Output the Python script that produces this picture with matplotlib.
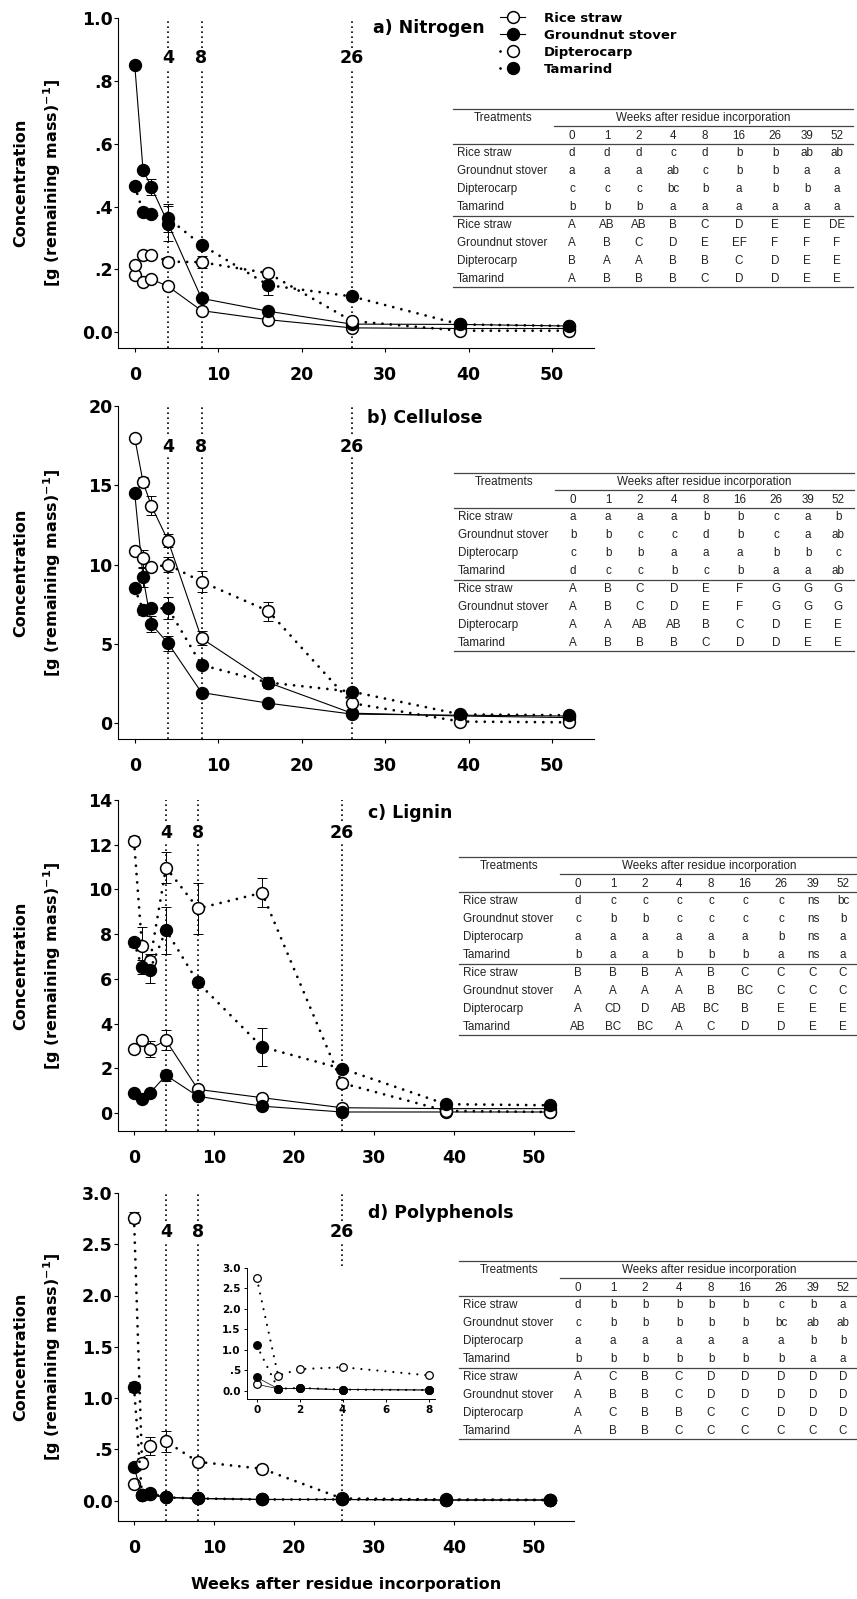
import matplotlib
matplotlib.use('agg')
from matplotlib import pyplot as plt
from matplotlib.lines import Line2D
import numpy as np

W, H = 857, 1599
plt.rcParams['font.family'] = 'DejaVu Sans'

weeks = [0, 1, 2, 4, 8, 16, 26, 39, 52]
treatments = ['Rice straw', 'Groundnut stover', 'Dipterocarp', 'Tamarind']
ref_weeks = [4, 8, 26]

# a) Nitrogen
nitrogen_rice = [0.182, 0.161, 0.169, 0.146, 0.069, 0.040, 0.014, 0.012, 0.012]
nitrogen_groundnut = [0.852, 0.516, 0.462, 0.346, 0.108, 0.067, 0.026, 0.025, 0.020]
nitrogen_dipterocarp = [0.215, 0.247, 0.247, 0.225, 0.223, 0.188, 0.036, 0.005, 0.005]
nitrogen_tamarind = [0.466, 0.383, 0.376, 0.363, 0.278, 0.150, 0.114, 0.025, 0.020]
nitrogen_err = [
    [0.005, 0.005, 0.005, 0.01, 0.005, 0.005, 0, 0, 0],
    [0, 0, 0.025, 0.055, 0.01, 0.005, 0, 0, 0],
    [0.01, 0.01, 0.01, 0.015, 0.02, 0.012, 0.01, 0, 0],
    [0.01, 0.01, 0.01, 0.045, 0.01, 0.032, 0.01, 0, 0],
]

# b) Cellulose
cellulose_rice = [18.0, 15.2, 13.7, 11.5, 5.35, 2.56, 0.63, 0.45, 0.35]
cellulose_groundnut = [14.5, 9.2, 6.23, 5.04, 1.93, 1.26, 0.57, 0.5, 0.45]
cellulose_dipterocarp = [10.85, 10.4, 9.82, 10.0, 8.92, 7.07, 1.26, 0.1, 0.05]
cellulose_tamarind = [8.5, 7.14, 7.24, 7.24, 3.67, 2.56, 1.99, 0.55, 0.5]
cellulose_err = [
    [0.2, 0.3, 0.6, 0.4, 0.45, 0.3, 0.1, 0, 0],
    [0.2, 0.6, 0.5, 0.47, 0.1, 0.1, 0.05, 0, 0],
    [0.2, 0.55, 0.2, 0.45, 0.65, 0.6, 0.1, 0, 0],
    [0.2, 0.3, 0.2, 0.7, 0.2, 0.35, 0.1, 0, 0],
]

# c) Lignin
lignin_rice = [2.88, 3.28, 2.88, 3.25, 1.06, 0.69, 0.24, 0.2, 0.2]
lignin_groundnut = [0.9, 0.64, 0.9, 1.69, 0.75, 0.31, 0.05, 0.05, 0.05]
lignin_dipterocarp = [12.18, 7.48, 6.8, 10.98, 9.15, 9.85, 1.34, 0.1, 0.05]
lignin_tamarind = [7.63, 6.54, 6.42, 8.18, 5.84, 2.96, 1.99, 0.4, 0.35]
lignin_err = [
    [0.1, 0.15, 0.35, 0.45, 0.1, 0.1, 0.05, 0, 0],
    [0.1, 0.1, 0.1, 0.25, 0.05, 0.05, 0, 0, 0],
    [0.2, 0.85, 0.3, 0.7, 1.15, 0.65, 0.2, 0, 0],
    [0.2, 0.3, 0.6, 1.05, 0.2, 0.85, 0.1, 0, 0],
]

# d) Polyphenols
poly_rice = [0.16, 0.05, 0.06, 0.03, 0.02, 0.01, 0.01, 0.005, 0.005]
poly_groundnut = [0.33, 0.05, 0.06, 0.03, 0.02, 0.01, 0.01, 0.005, 0.005]
poly_dipterocarp = [2.76, 0.37, 0.53, 0.576, 0.377, 0.31, 0.02, 0.01, 0.005]
poly_tamarind = [1.11, 0.05, 0.07, 0.03, 0.02, 0.01, 0.01, 0.005, 0.005]
poly_err = [
    [0.02, 0.01, 0.01, 0.01, 0, 0, 0, 0, 0],
    [0.02, 0.01, 0.01, 0.01, 0, 0, 0, 0, 0],
    [0.05, 0.04, 0.09, 0.1, 0.03, 0.04, 0.01, 0, 0],
    [0.05, 0.01, 0.01, 0.01, 0, 0, 0, 0, 0],
]

# significance letters (lower case: between treatments, upper case: over time)
nitrogen_lower = [
    ['d', 'd', 'd', 'c', 'd', 'b', 'b', 'ab', 'ab'],
    ['a', 'a', 'a', 'ab', 'c', 'b', 'b', 'a', 'a'],
    ['c', 'c', 'c', 'bc', 'b', 'a', 'b', 'b', 'a'],
    ['b', 'b', 'b', 'a', 'a', 'a', 'a', 'a', 'a'],
]
nitrogen_upper = [
    ['A', 'AB', 'AB', 'B', 'C', 'D', 'E', 'E', 'DE'],
    ['A', 'B', 'C', 'D', 'E', 'EF', 'F', 'F', 'F'],
    ['B', 'A', 'A', 'B', 'B', 'C', 'D', 'E', 'E'],
    ['A', 'B', 'B', 'B', 'C', 'D', 'D', 'E', 'E'],
]
cellulose_lower = [
    ['a', 'a', 'a', 'a', 'b', 'b', 'c', 'a', 'b'],
    ['b', 'b', 'c', 'c', 'd', 'b', 'c', 'a', 'ab'],
    ['c', 'b', 'b', 'a', 'a', 'a', 'b', 'b', 'c'],
    ['d', 'c', 'c', 'b', 'c', 'b', 'a', 'a', 'ab'],
]
cellulose_upper = [
    ['A', 'B', 'C', 'D', 'E', 'F', 'G', 'G', 'G'],
    ['A', 'B', 'C', 'D', 'E', 'F', 'G', 'G', 'G'],
    ['A', 'A', 'AB', 'AB', 'B', 'C', 'D', 'E', 'E'],
    ['A', 'B', 'B', 'B', 'C', 'D', 'D', 'E', 'E'],
]
lignin_lower = [
    ['d', 'c', 'c', 'c', 'c', 'c', 'c', 'ns', 'bc'],
    ['c', 'b', 'b', 'c', 'c', 'c', 'c', 'ns', 'b'],
    ['a', 'a', 'a', 'a', 'a', 'a', 'b', 'ns', 'a'],
    ['b', 'a', 'a', 'b', 'b', 'b', 'a', 'ns', 'a'],
]
lignin_upper = [
    ['B', 'B', 'B', 'A', 'B', 'C', 'C', 'C', 'C'],
    ['A', 'A', 'A', 'A', 'B', 'BC', 'C', 'C', 'C'],
    ['A', 'CD', 'D', 'AB', 'BC', 'B', 'E', 'E', 'E'],
    ['AB', 'BC', 'BC', 'A', 'C', 'D', 'D', 'E', 'E'],
]
poly_lower = [
    ['d', 'b', 'b', 'b', 'b', 'b', 'c', 'b', 'a'],
    ['c', 'b', 'b', 'b', 'b', 'b', 'bc', 'ab', 'ab'],
    ['a', 'a', 'a', 'a', 'a', 'a', 'a', 'b', 'b'],
    ['b', 'b', 'b', 'b', 'b', 'b', 'b', 'a', 'a'],
]
poly_upper = [
    ['A', 'C', 'B', 'C', 'D', 'D', 'D', 'D', 'D'],
    ['A', 'B', 'B', 'C', 'D', 'D', 'D', 'D', 'D'],
    ['A', 'C', 'B', 'B', 'C', 'C', 'D', 'D', 'D'],
    ['A', 'B', 'B', 'C', 'C', 'C', 'C', 'C', 'C'],
]

nitrogen_ticks = [0, 0.2, 0.4, 0.6, 0.8, 1.0]
nitrogen_ticklabels = ['0.0', '.2', '.4', '.6', '.8', '1.0']
cellulose_ticks = [0, 5, 10, 15, 20]
cellulose_ticklabels = ['0', '5', '10', '15', '20']
lignin_ticks = [0, 2, 4, 6, 8, 10, 12, 14]
lignin_ticklabels = ['0', '2', '4', '6', '8', '10', '12', '14']
poly_ticks = [0, 0.5, 1.0, 1.5, 2.0, 2.5, 3.0]
poly_ticklabels = ['0.0', '.5', '1.0', '1.5', '2.0', '2.5', '3.0']
week_ticks = [0, 10, 20, 30, 40, 50]
inset_week_ticks = [0, 2, 4, 6, 8]

DOTTED = (0, (0.01, 3.0))
styles = [('white', False), ('black', False), ('white', True), ('black', True)]


def fx(x):
    return x / W


def fy(y):
    return 1 - y / H


def draw_series(ax, series, errors=None, ms=8.5, solid_lw=0.8, dot_lw=2.0,
                dots=DOTTED, mew=1.1):
    handles = []
    x = np.array(weeks[:len(series[0])])
    for i, (vals, (fill, dotted)) in enumerate(zip(series, styles)):
        y = np.array(vals)
        if errors is not None:
            e = np.array(errors[i])
            keep = e > 0
            ax.errorbar(x[keep], y[keep], yerr=e[keep], fmt='none', ecolor='black',
                        elinewidth=0.7, capsize=3.5, capthick=0.7, zorder=2)
        if dotted:
            line, = ax.plot(x, y, color='black', lw=dot_lw, ls=dots, dash_capstyle='round',
                            marker='o', ms=ms, mfc=fill, mec='black', mew=mew, zorder=3)
        else:
            line, = ax.plot(x, y, color='black', lw=solid_lw, ls='-',
                            marker='o', ms=ms, mfc=fill, mec='black', mew=mew, zorder=3)
        handles.append(line)
    return handles


def draw_table(fig, top, left, lower_rows, upper_rows):
    right = left + 400
    col_off = [119, 154, 186, 220, 252, 286, 322, 354, 384]
    kw = dict(family='Liberation Sans', size=8.4, color='#222222', va='center')

    def hline(y, x0, x1):
        fig.add_artist(Line2D([fx(x0), fx(x1)], [fy(y), fy(y)], color='#444444', lw=0.9))

    hline(top, left, right)
    fig.text(fx(left + 50), fy(top + 9), 'Treatments', ha='center', **kw)
    fig.text(fx(left + 250), fy(top + 9), 'Weeks after residue incorporation', ha='center', **kw)
    hline(top + 17, left + 101, right)
    for off, wk in zip(col_off, weeks):
        fig.text(fx(left + off), fy(top + 27), str(wk), ha='center', **kw)
    hline(top + 35, left, right)
    for i, row in enumerate(lower_rows + upper_rows):
        y = top + 44 + 18 * i
        fig.text(fx(left + 4), fy(y), treatments[i % 4], ha='left', **kw)
        for off, letter in zip(col_off, row):
            fig.text(fx(left + off), fy(y), letter, ha='center', **kw)
    hline(top + 107, left, right)
    hline(top + 178, left, right)


fig = plt.figure(figsize=(W / 100, H / 100), dpi=100)

panels = [
    dict(title='a) Nitrogen', box=(118, 18, 594, 348), ylim=(-0.05, 1.0),
         ticks=nitrogen_ticks, labels=nitrogen_ticklabels,
         data=[nitrogen_rice, nitrogen_groundnut, nitrogen_dipterocarp, nitrogen_tamarind],
         err=nitrogen_err, lower=nitrogen_lower, upper=nitrogen_upper,
         table=(109, 453), title_pos=(0.536, 0.97), ref_y=0.879),
    dict(title='b) Cellulose', box=(118, 406, 594, 739), ylim=(-1, 20),
         ticks=cellulose_ticks, labels=cellulose_ticklabels,
         data=[cellulose_rice, cellulose_groundnut, cellulose_dipterocarp, cellulose_tamarind],
         err=cellulose_err, lower=cellulose_lower, upper=cellulose_upper,
         table=(473, 454), title_pos=(0.523, 0.964), ref_y=0.877),
    dict(title='c) Lignin', box=(118, 800, 574, 1131), ylim=(-0.8, 14),
         ticks=lignin_ticks, labels=lignin_ticklabels,
         data=[lignin_rice, lignin_groundnut, lignin_dipterocarp, lignin_tamarind],
         err=lignin_err, lower=lignin_lower, upper=lignin_upper,
         table=(857, 459), title_pos=(0.548, 0.96), ref_y=0.90),
    dict(title='d) Polyphenols', box=(118, 1193, 574, 1521), ylim=(-0.2, 3.0),
         ticks=poly_ticks, labels=poly_ticklabels,
         data=[poly_rice, poly_groundnut, poly_dipterocarp, poly_tamarind],
         err=poly_err, lower=poly_lower, upper=poly_upper,
         table=(1261, 459), title_pos=(0.548, 0.94), ref_y=0.88),
]

bold = dict(weight='bold')
legend_handles = None
for k, p in enumerate(panels):
    l, t, r, b = p['box']
    ax = fig.add_axes([fx(l), fy(b), (r - l) / W, (b - t) / H])
    for wk in ref_weeks:
        ax.axvline(wk, color='black', lw=1.2, ls=(0, (1, 2.0)), zorder=1)
        ax.text(wk, p['ref_y'], str(wk), transform=ax.get_xaxis_transform(), ha='center',
                va='center', size=12.5, zorder=4,
                bbox=dict(facecolor='white', edgecolor='none', pad=0.5), **bold)
    handles = draw_series(ax, p['data'], p['err'])
    if legend_handles is None:
        legend_handles = handles
    ax.set_xlim(-2, 55)
    ax.set_ylim(*p['ylim'])
    ax.set_xticks(week_ticks)
    ax.set_xticklabels([str(w) for w in week_ticks])
    ax.set_yticks(p['ticks'])
    ax.set_yticklabels(p['labels'])
    for s in ('top', 'right'):
        ax.spines[s].set_visible(False)
    for s in ('left', 'bottom'):
        ax.spines[s].set_linewidth(0.8)
    ax.tick_params(direction='out', length=3, width=0.8, labelsize=12.5)
    ax.tick_params(axis='x', pad=10)
    ax.tick_params(axis='y', pad=1)
    for lab in ax.get_xticklabels() + ax.get_yticklabels():
        lab.set_fontweight('bold')
    ax.set_ylabel('Concentration\n[g (remaining mass)$^{\\mathbf{-1}}$]', size=11.5,
                  linespacing=1.75, va='center', **bold)
    ax.yaxis.set_label_coords(fx(38 - l) * W / (r - l), 0.5)
    ax.text(p['title_pos'][0], p['title_pos'][1], p['title'], transform=ax.transAxes,
            ha='left', va='center', size=12.5, **bold)
    if k == 3:
        ax.set_xlabel('Weeks after residue incorporation', size=11.5, labelpad=14, **bold)
        # inset for the first weeks of polyphenols
        ins = fig.add_axes([fx(247), fy(1399), (435 - 247) / W, (1399 - 1268) / H])
        ins.set_facecolor('white')
        draw_series(ins, [d[:5] for d in p['data']], None, ms=5.5, solid_lw=0.5,
                    dot_lw=1.6, dots=(0, (0.01, 3.6)), mew=0.9)
        ins.set_xlim(-0.45, 8.3)
        ins.set_ylim(-0.2, 3.0)
        ins.set_xticks(inset_week_ticks)
        ins.set_yticks(poly_ticks)
        ins.set_yticklabels(poly_ticklabels)
        for s in ('top', 'right'):
            ins.spines[s].set_visible(False)
        for s in ('left', 'bottom'):
            ins.spines[s].set_linewidth(0.7)
        ins.tick_params(direction='out', length=2.5, width=0.7, labelsize=7.5, pad=2)
        for lab in ins.get_xticklabels() + ins.get_yticklabels():
            lab.set_fontweight('bold')
    draw_table(fig, p['table'][0], p['table'][1], p['lower'], p['upper'])

fig.legend(legend_handles, treatments, loc='upper left', bbox_to_anchor=(fx(500), fy(12)),
           frameon=False, prop=dict(weight='bold', size=9.5), handlelength=1.9,
           handletextpad=1.4, labelspacing=0.3, borderpad=0, borderaxespad=0)

fig.savefig('out.png', dpi=100)
